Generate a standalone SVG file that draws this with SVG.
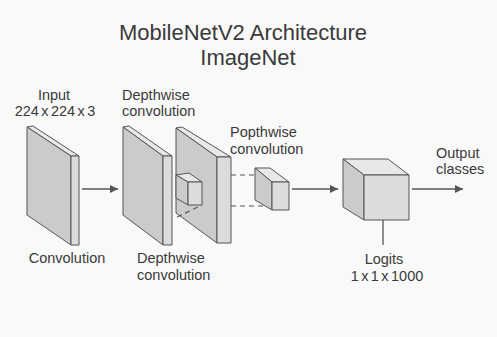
<svg xmlns="http://www.w3.org/2000/svg" width="497" height="337" viewBox="0 0 497 337">
<defs>
<style>
.t{font-family:"Liberation Sans",Arial,sans-serif;fill:#3a3a3a;font-size:14.5px}
.dim{word-spacing:-1.6px}
.ti{font-family:"Liberation Sans",Arial,sans-serif;fill:#3a3a3a;font-size:22px;text-anchor:middle}
.side{fill:#cbcbcb;stroke:#555;stroke-width:1;stroke-linejoin:round}
.front{fill:#dcdcdc;stroke:#555;stroke-width:1;stroke-linejoin:round}
.top{fill:#e8e8e8;stroke:#555;stroke-width:1;stroke-linejoin:round}
.ln{stroke:#555;stroke-width:1.3;fill:none}
.dash{stroke:#555;stroke-width:1.2;fill:none;stroke-dasharray:5 4}
</style>
<marker id="ah" markerWidth="10" markerHeight="10" refX="8" refY="4" orient="auto" markerUnits="userSpaceOnUse">
<path d="M0,0 L8,4 L0,8 Z" fill="#555"/>
</marker>
</defs>
<rect width="497" height="337" fill="#f9f9f9"/>
<text class="ti" x="243" y="40">MobileNetV2 Architecture</text>
<text class="ti" x="248" y="65">ImageNet</text>

<g id="input">
<polygon class="top" points="27,127 33,126 79,156 71,156"/>
<polygon class="side" points="27,127 71,156 71,245 27,215"/>
<polygon class="front" points="71,156 79,156 79,245 71,245"/>
<text class="t" x="54" y="100" text-anchor="middle">Input</text>
<text class="t dim" x="55" y="116" text-anchor="middle">224 x 224 x 3</text>
<text class="t" x="67" y="263" text-anchor="middle">Convolution</text>
</g>

<g id="depthwise1">
<polygon class="top" points="123,127 129,126 172,156 163,156"/>
<polygon class="side" points="123,127 163,156 163,245 123,215"/>
<polygon class="front" points="163,156 172,156 172,245 163,245"/>
<text class="t" x="122" y="100">Depthwise</text>
<text class="t" x="122" y="116">convolution</text>
<text class="t" x="137" y="263">Depthwise</text>
<text class="t" x="137" y="280">convolution</text>
</g>

<g id="depthwise2">
<polygon class="top" points="176,128 182,127 231,157 217,157"/>
<polygon class="side" points="176,128 217,157 217,243 176,213"/>
<polygon class="front" points="217,157 231,157 231,243 217,243"/>
</g>

<g id="kernel">
<polygon class="top" points="176,175 189,173 202,182 188,182"/>
<polygon class="side" points="176,175 188,182 188,205 176,198"/>
<polygon class="front" points="188,182 202,182 202,205 188,205"/>
</g>

<g id="pointwise">
<polygon class="top" points="255,168 270,168 289,182 272,182"/>
<polygon class="side" points="255,168 272,182 272,210 255,200"/>
<polygon class="front" points="272,182 289,182 289,210 272,210"/>
<text class="t" x="230" y="137">Popthwise</text>
<text class="t" x="230" y="154">convolution</text>
</g>

<g id="logits">
<polygon class="top" points="343,159 388,159 409,175 364,175"/>
<polygon class="side" points="343,159 364,175 364,220 343,207"/>
<polygon class="front" points="364,175 409,175 409,220 364,220"/>
<text class="t" x="384" y="264" text-anchor="middle">Logits</text>
<text class="t dim" x="387" y="281" text-anchor="middle">1 x 1 x 1000</text>
</g>

<g id="output">
<text class="t" x="436" y="158">Output</text>
<text class="t" x="436" y="174">classes</text>
</g>

<g id="connectors">
<line class="ln" x1="82" y1="189" x2="118" y2="189" marker-end="url(#ah)"/>
<line class="dash" x1="177" y1="217" x2="202" y2="205"/>
<line class="dash" x1="231" y1="175" x2="258" y2="175"/>
<line class="dash" x1="231" y1="206" x2="266" y2="206"/>
<line class="ln" x1="292" y1="189" x2="338" y2="189" marker-end="url(#ah)"/>
<line class="ln" x1="412" y1="189" x2="463" y2="189" marker-end="url(#ah)"/>
<line class="ln" x1="383" y1="220" x2="383" y2="245"/>
</g>
</svg>
